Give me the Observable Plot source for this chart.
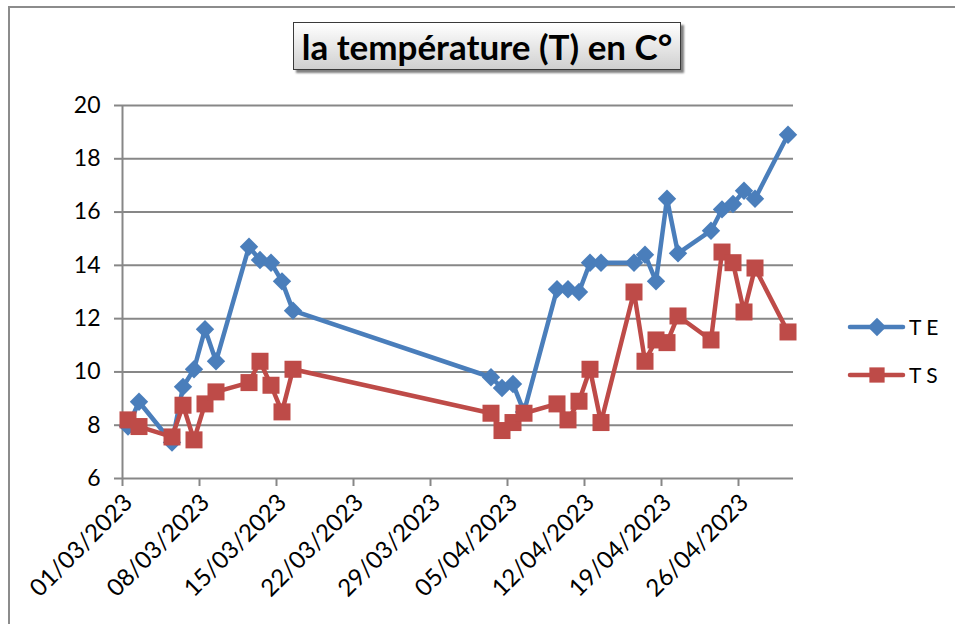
<!DOCTYPE html>
<html><head><meta charset="utf-8">
<script src="https://cdn.jsdelivr.net/npm/d3@7"></script>
<script src="https://cdn.jsdelivr.net/npm/@observablehq/plot@0.6"></script>
<style>
body{margin:0;background:#fff;}
#wrap{position:relative;width:955px;height:624px;overflow:hidden;font-family:Lato,"Open Sans",sans-serif;}
#frame{position:absolute;left:8px;top:6px;width:1000px;height:700px;border-left:2px solid #8c8c8c;border-top:2px solid #8c8c8c;}
#chart{position:absolute;left:0;top:0;}
#title{position:absolute;left:293px;top:22px;width:386px;height:46px;border:1.5px solid #3a3a3a;background:linear-gradient(#ffffff,#d0d0d0);box-shadow:3px 3px 2px #808080;font-weight:bold;font-size:35px;text-align:center;line-height:46px;color:#000;white-space:nowrap;}
#legend{position:absolute;left:846px;top:305px;}
</style></head>
<body><div id="wrap"><div id="frame"></div><div id="chart"></div><div id="title">la température (T) en C°</div><svg id="legend" width="109" height="95"></svg></div>
<script>
const dates = ["2023-03-01","2023-03-02","2023-03-05","2023-03-06","2023-03-07","2023-03-08","2023-03-09","2023-03-12","2023-03-13","2023-03-14","2023-03-15","2023-03-16","2023-04-03","2023-04-04","2023-04-05","2023-04-06","2023-04-09","2023-04-10","2023-04-11","2023-04-12","2023-04-13","2023-04-16","2023-04-17","2023-04-18","2023-04-19","2023-04-20","2023-04-23","2023-04-24","2023-04-25","2023-04-26","2023-04-27","2023-04-30"];
const TE = [7.95,8.88,7.35,9.44,10.1,11.6,10.4,14.7,14.2,14.1,13.4,12.3,9.8,9.4,9.55,8.5,13.1,13.1,13.0,14.1,14.1,14.1,14.4,13.4,16.5,14.45,15.3,16.1,16.3,16.8,16.5,18.9];
const TS = [8.2,7.95,7.56,8.75,7.45,8.8,9.25,9.6,10.4,9.5,8.5,10.1,8.45,7.8,8.1,8.45,8.8,8.2,8.9,10.1,8.1,13.0,10.4,11.2,11.1,12.1,11.2,14.5,14.1,12.25,13.9,11.5];
const seriesNames = ["T E","T S"];
const seriesColors = ["#4A7EBB","#BE4B48"];
const yTicks = [6,8,10,12,14,16,18,20];
const xTickLabels = ["01/03/2023","08/03/2023","15/03/2023","22/03/2023","29/03/2023","05/04/2023","12/04/2023","19/04/2023","26/04/2023"];
const xDomainLabels = ["01/03/2023","01/05/2023"];

const parseFr = d3.utcParse("%d/%m/%Y");
const fmtFr = d3.utcFormat("%d/%m/%Y");
const xTicks = xTickLabels.map(parseFr);
// Excel date axis: points sit in the middle of each day slot
const mid = s => d3.utcHour.offset(new Date(s + "T00:00Z"), 12);
const rowsE = dates.map((d,i)=>({date: mid(d), value: TE[i], serie: seriesNames[0]}));
const rowsS = dates.map((d,i)=>({date: mid(d), value: TS[i], serie: seriesNames[1]}));

const grid = "#878787";
const chart = Plot.plot({
  width: 955, height: 624,
  marginLeft: 122, marginRight: 162, marginTop: 105, marginBottom: 146,
  style: {fontFamily: "Lato, 'Open Sans', sans-serif", color: "#000", background: "transparent"},
  x: {type: "utc", domain: xDomainLabels.map(parseFr), label: null},
  y: {domain: [6, 20], label: null},
  color: {domain: seriesNames, range: seriesColors},
  marks: [
    Plot.gridY(yTicks, {stroke: grid, strokeOpacity: 1, strokeWidth: 2}),
    Plot.ruleX([parseFr(xDomainLabels[0])], {stroke: grid, strokeWidth: 2}),
    Plot.axisY({ticks: yTicks, label: null, tickSize: 8, tickPadding: 14, stroke: grid, strokeWidth: 2, fontSize: 23, tickFormat: d => String(d)}),
    Plot.axisX({ticks: xTicks, label: null, tickSize: 8, stroke: grid, strokeWidth: 2, tickFormat: () => ""}),
    Plot.axisX({ticks: xTicks, label: null, tickSize: 0, tickPadding: 14, fontSize: 24, tickRotate: -45, dx: 6, dy: 6, tickFormat: fmtFr}),
    Plot.line(rowsE, {x: "date", y: "value", stroke: "serie", strokeWidth: 4.5, strokeLinejoin: "round", strokeLinecap: "round"}),
    Plot.dot(rowsE, {x: "date", y: "value", fill: "serie", symbol: "diamond2", r: 8.3}),
    Plot.line(rowsS, {x: "date", y: "value", stroke: "serie", strokeWidth: 4.5, strokeLinejoin: "round", strokeLinecap: "round"}),
    Plot.dot(rowsS, {x: "date", y: "value", fill: "serie", symbol: "square", r: 9.6})
  ]
});
document.getElementById("chart").appendChild(chart);

// legend
const leg = d3.select("#legend");
const symDiamond = d3.symbol(d3.symbolDiamond2, 8.3*8.3*Math.PI)();
const symSquare = d3.symbol(d3.symbolSquare, 8.6*8.6*Math.PI)();
seriesNames.forEach((name, i) => {
  const g = leg.append("g").attr("transform", `translate(0,${22 + i*48})`);
  g.append("line").attr("x1", 4).attr("x2", 57).attr("y1", 0).attr("y2", 0)
    .attr("stroke", seriesColors[i]).attr("stroke-width", 4.5).attr("stroke-linecap", "round");
  g.append("path").attr("d", i === 0 ? symDiamond : symSquare).attr("transform", "translate(31,0)").attr("fill", seriesColors[i]);
  g.append("text").attr("x", 63).attr("y", 8).attr("font-size", 21).attr("font-family", "Lato, sans-serif").attr("fill", "#000").text(name);
});
</script></body></html>
